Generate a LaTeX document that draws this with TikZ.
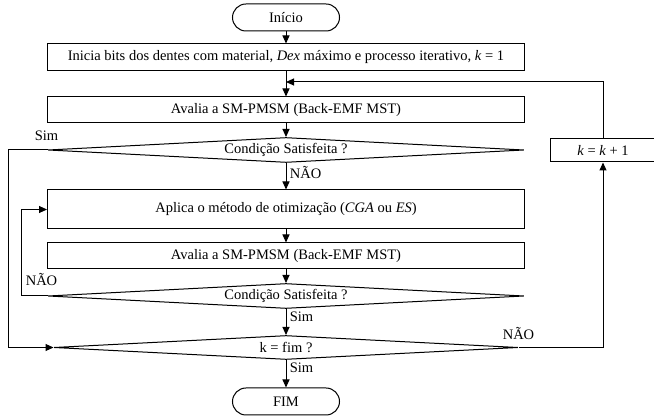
\documentclass[tikz,border=0pt]{standalone}
\usepackage{fontspec}
\setmainfont{Liberation Serif}
\usetikzlibrary{shapes.geometric,shapes.misc,arrows.meta}

\tikzset{
  terminal/.style={draw, rounded rectangle, minimum width=107pt, minimum height=27pt, inner sep=0pt},
  process/.style={draw, rectangle, minimum width=477pt, inner sep=0pt},
  decision/.style={draw, diamond, aspect=19, inner sep=0pt, minimum height=25pt},
  flow/.style={-{Triangle[length=8pt,width=7pt]}},
}

\begin{document}
\begin{tikzpicture}[x=1pt, y=1pt, line width=1pt, font=\fontsize{14.5}{17}\selectfont]

\useasboundingbox (0,0) rectangle (654,420);

% main column, all centred on x=286
\node[terminal] (start) at (286,402.5) {Início};
\node[process, minimum height=27pt] (init) at (286,362.5)
  {Inicia bits dos dentes com material, \textit{Dex} máximo e processo iterativo, \textit{k} = 1};
\node[process, minimum height=26pt] (eval) at (286,310) {Avalia a SM-PMSM (Back-EMF MST)};
\node[decision, minimum width=476pt] (cond) at (286,270) {Condição Satisfeita ?};
\node[process, minimum height=39pt] (optim) at (286,210.5)
  {Aplica o método de otimização (\textit{CGA} ou \textit{ES})};
\node[process, minimum height=26pt] (evalb) at (286,164) {Avalia a SM-PMSM (Back-EMF MST)};
\node[decision, minimum width=476pt] (condb) at (286,124) {Condição Satisfeita ?};
\node[decision, minimum width=464pt, minimum height=24pt] (kend) at (286,72.5) {k = fim ?};
\node[terminal] (fim) at (286,18.5) {FIM};

% counter update on the right (clipped by the page edge)
\node[draw, minimum width=106pt, minimum height=23pt, inner sep=0pt] (incr) at (603,269.5)
  {\textit{k} = \textit{k} + 1};
\coordinate (join) at (286,338);

% straight flow
\draw[flow] (start) -- (init);
\draw[flow] (init) -- (eval);
\draw[flow] (eval) -- (cond);
\draw[flow] (cond) -- node[right, pos=0.35] {NÃO} (optim);
\draw[flow] (optim) -- (evalb);
\draw[flow] (evalb) -- (condb);
\draw[flow] (condb) -- node[right, pos=0.3] {Sim} (kend);
\draw[flow] (kend) -- node[right, pos=0.3] {Sim} (fim);

% loops
\draw[flow] (cond.west) node[above=6pt, xshift=-1pt] {Sim} -- ++(-39,0) |- (kend.west);
\draw[flow] (condb.west) node[above=7pt, xshift=-6pt] {NÃO} -- ++(-26,0) |- (optim.west);
\draw[flow] (kend.east) node[above=4pt] {NÃO} -| (incr.south);
\draw[flow] (incr.north) |- (join);

\end{tikzpicture}
\end{document}
